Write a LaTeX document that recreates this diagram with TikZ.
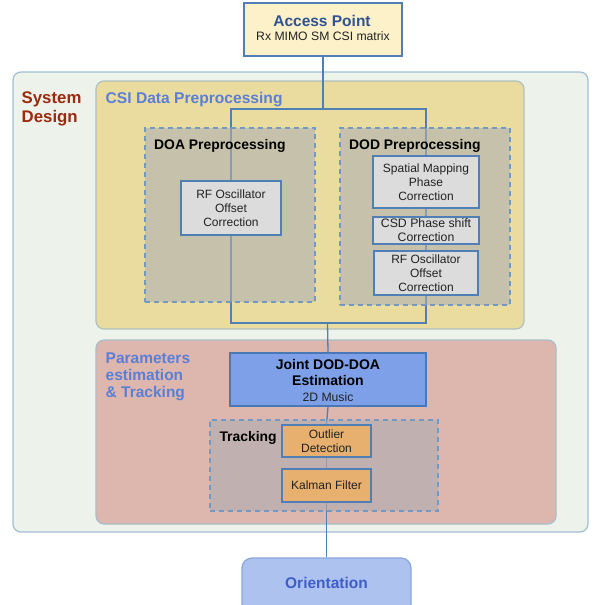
\documentclass[tikz,border=0pt]{standalone}
\usepackage{fontspec}
\setmainfont{Liberation Sans}
\definecolor{lineblue}{HTML}{4F7FB5}
\definecolor{apfill}{HTML}{FCF1C8}
\definecolor{aptext}{HTML}{30528F}
\definecolor{sysfill}{HTML}{EDF2EA}
\definecolor{sysborder}{HTML}{A0BFD5}
\definecolor{csifill}{HTML}{EADC9E}
\definecolor{csiborder}{HTML}{AFC0BE}
\definecolor{csitext}{HTML}{5B7FD6}
\definecolor{sysred}{HTML}{9A2A10}
\definecolor{grayfill}{RGB}{174,175,178}
\definecolor{stepfill}{HTML}{DCDCDC}
\definecolor{jointfill}{HTML}{7EA0E8}
\definecolor{jointborder}{HTML}{4A77B5}
\definecolor{orangefill}{HTML}{E8B06E}
\definecolor{parfill}{HTML}{DDB6AE}
\definecolor{parborder}{HTML}{A9BECB}
\definecolor{orifill}{HTML}{AEC2EF}
\definecolor{oriborder}{HTML}{8AA8DA}
\definecolor{oritext}{HTML}{3E5DC6}
\definecolor{textdark}{HTML}{222222}
\pgfdeclarelayer{bg}
\pgfdeclarelayer{lines}
\pgfsetlayers{bg,lines,main}
\tikzset{
  region/.style={rectangle, rounded corners=8pt, line width=1.2pt, inner sep=0pt},
  groupbox/.style={rectangle, draw=lineblue!80, dash pattern=on 5pt off 4pt, line width=1.3pt, fill=grayfill, fill opacity=0.6, draw opacity=1, inner sep=0pt},
  stepbox/.style={rectangle, draw=lineblue, line width=1.3pt, fill=stepfill, inner sep=0pt, align=center, text=textdark, font=\fontsize{12}{14}\selectfont},
  orangebox/.style={stepbox, fill=orangefill},
  conn/.style={draw=lineblue, line width=1.3pt},
  grouptitle/.style={anchor=base west, inner sep=0pt, font=\fontsize{13.9}{16}\selectfont\bfseries, text=black},
  label/.style={anchor=base, inner sep=0pt},
}
\begin{document}
\begin{tikzpicture}[x=1pt,y=-1pt]
\clip (0,0) rectangle (602,605);
\useasboundingbox (0,0) rectangle (602,605);

\begin{pgfonlayer}{bg}
\fill[white] (0,0) rectangle (602,605);
\node[region, draw=sysborder, fill=sysfill, minimum width=575pt, minimum height=460pt] (sys) at (300.5,302) {};
\node[region, draw=csiborder, fill=csifill, minimum width=428pt, minimum height=248pt] (csi) at (310,205) {};
\node[region, draw=parborder, fill=parfill, minimum width=460pt, minimum height=184pt] (par) at (326,432) {};
\end{pgfonlayer}

% region titles
\node[anchor=base west, inner sep=0pt, align=left, text=sysred, font=\fontsize{16.8}{19.7}\selectfont\bfseries] (systitle) at (21.5,122.7) {System\\Design};
\node[anchor=base west, inner sep=0pt, text=csitext, font=\fontsize{15.6}{18}\selectfont\bfseries] (csititle) at (105.5,103.3) {CSI Data Preprocessing};
\node[anchor=base west, inner sep=0pt, align=left, text=csitext, font=\fontsize{15.5}{17.3}\selectfont\bfseries] (partitle) at (105.5,397.7) {Parameters\\estimation\\\& Tracking};

% access point
\node[rectangle, draw=lineblue, line width=1.3pt, fill=apfill, minimum width=158pt, minimum height=53pt, inner sep=0pt] (ap) at (323,29.5) {};
\node[label, text=aptext, font=\fontsize{15.5}{18}\selectfont\bfseries] (aptitle) at (322,26) {Access Point};
\node[label, text=textdark, font=\fontsize{12.2}{14}\selectfont] (apsub) at (323,40.7) {Rx MIMO SM CSI matrix};

% group boxes
\node[groupbox, minimum width=170pt, minimum height=174pt] (doa) at (230,215) {};
\node[groupbox, minimum width=170pt, minimum height=177pt] (dod) at (425,216.5) {};
\node[groupbox, minimum width=228pt, minimum height=91pt] (trk) at (324,465.5) {};
\node[grouptitle] (doatitle) at (154,149) {DOA Preprocessing};
\node[grouptitle] (dodtitle) at (349,149) {DOD Preprocessing};
\node[grouptitle] (trktitle) at (219.3,441.7) {Tracking};

% steps
\node[stepbox, minimum width=100pt, minimum height=54pt] (doarf) at (231,208) {RF Oscillator\\Offset\\Correction};
\node[stepbox, minimum width=106pt, minimum height=52pt] (sm) at (426,182) {Spatial Mapping\\Phase\\Correction};
\node[stepbox, minimum width=106pt, minimum height=27pt, font=\fontsize{12.3}{14}\selectfont] (csd) at (426,230.5) {CSD Phase shift\\Correction};
\node[stepbox, minimum width=104pt, minimum height=44pt] (dodrf) at (426,273) {RF Oscillator\\Offset\\Correction};

\node[rectangle, draw=jointborder, line width=1.8pt, fill=jointfill, minimum width=196pt, minimum height=53pt, inner sep=0pt] (joint) at (328,379.5) {};
\node[label, font=\fontsize{14}{16}\selectfont\bfseries] (jointa) at (328,369.3) {Joint DOD-DOA};
\node[label, font=\fontsize{14}{16}\selectfont\bfseries] (jointb) at (328,385.7) {Estimation};
\node[label, text=textdark, font=\fontsize{12.2}{14}\selectfont] (jointc) at (328,401) {2D Music};

\node[orangebox, minimum width=89pt, minimum height=32pt] (out) at (326.5,441) {Outlier\\Detection};
\node[orangebox, minimum width=89pt, minimum height=33pt] (kal) at (326.5,485.5) {Kalman Filter};

\node[rectangle, rounded corners=10pt, draw=oriborder, line width=1.3pt, fill=orifill, minimum width=169pt, minimum height=56pt, inner sep=0pt] (ori) at (326.5,586) {};
\node[label, text=oritext, font=\fontsize{15.5}{18}\selectfont\bfseries] (oritext) at (326.5,588.5) {Orientation};

% connectors
\coordinate (jt) at (323,109);
\coordinate (jb) at (327.5,323);
\begin{pgfonlayer}{lines}
\draw[conn] (ap.south) -- (jt);
\draw[conn] (doarf.north) -- (doarf.north |- jt) -- (sm.north |- jt) -- (sm.north);
\draw[conn] (doarf.south) -- (doarf.south |- jb) -- (dodrf.south |- jb) -- (dodrf.south);
\draw[conn] (jb) -- (joint.north);
\draw[conn] (sm.south) -- (csd.north);
\draw[conn] (csd.south) -- (dodrf.north);
\draw[conn] (joint.south) -- (out.north);
\draw[conn] (out.south) -- (kal.north);
\draw[conn] (kal.south) -- (ori.north);
\end{pgfonlayer}
\end{tikzpicture}
\end{document}
